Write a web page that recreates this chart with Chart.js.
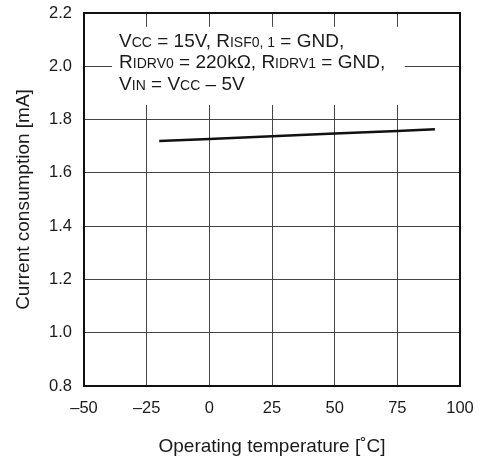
<!DOCTYPE html>
<html>
<head>
<meta charset="utf-8">
<script src="https://cdn.jsdelivr.net/npm/chart.js@4"></script>
<style>
  html, body { margin: 0; padding: 0; background: #fff; }
  #wrap { width: 482px; height: 462px; }
</style>
</head>
<body>
<div id="wrap"><canvas id="currentChart" width="482" height="462"></canvas></div>
<script>
    // Current consumption vs. operating temperature
    const temperature = [-20, 0, 25, 50, 75, 90];
    const current = [1.72, 1.727, 1.737, 1.748, 1.757, 1.764];
    const xTicks = [-50, -25, 0, 25, 50, 75, 100];
    const yTicks = [0.8, 1.0, 1.2, 1.4, 1.6, 1.8, 2.0, 2.2];

    // condition note, each line split into normal / small-caps parts
    const noteLines = [
        [['V', 0], ['CC', 1], [' = 15V, R', 0], ['ISF0, 1', 1], [' = GND,', 0]],
        [['R', 0], ['IDRV0', 1], [' = 220k\u03A9, R', 0], ['IDRV1', 1], [' = GND,', 0]],
        [['V', 0], ['IN', 1], [' = V', 0], ['CC', 1], [' \u2013 5V', 0]]
    ];

    const FONT = '"Liberation Sans", Arial, sans-serif';

    const notePlugin = {
        id: 'note',
        afterDatasetsDraw(chart) {
            const ctx = chart.ctx;
            const xs = chart.scales.x, ys = chart.scales.y;
            ctx.save();
            // white box hides the grid behind the text
            const left = xs.getPixelForValue(-38.8);
            const right = xs.getPixelForValue(78);
            const top = ys.getPixelForValue(2.148);
            const bottom = ys.getPixelForValue(1.855);
            ctx.fillStyle = '#fff';
            ctx.fillRect(left, top, right - left, bottom - top);
            ctx.fillStyle = '#1a1a1a';
            ctx.textBaseline = 'alphabetic';
            noteLines.forEach((parts, i) => {
                let x = left + 7;
                const y = top + 20 + i * 21.5;
                parts.forEach(([t, small]) => {
                    ctx.font = (small ? '14px ' : '19px ') + FONT;
                    ctx.fillText(t, x, y);
                    x += ctx.measureText(t).width;
                });
            });
            ctx.restore();
        }
    };

    const ctx = document.getElementById('currentChart').getContext('2d');
    new Chart(ctx, {
        type: 'scatter',
        data: {
            datasets: [{
                data: temperature.map((t, i) => ({ x: t, y: current[i] })),
                showLine: true,
                borderColor: '#111',
                borderWidth: 2.5,
                pointRadius: 0,
                tension: 0
            }]
        },
        options: {
            responsive: false,
            animation: false,
            layout: { padding: { top: 13, right: 22, left: 0, bottom: 0 } },
            plugins: { legend: { display: false }, tooltip: { enabled: false } },
            scales: {
                x: {
                    type: 'linear',
                    min: -50, max: 100,
                    afterBuildTicks: s => { s.ticks = xTicks.map(v => ({ value: v })); },
                    afterFit: s => { s.height = 76; s.paddingLeft = 0; s.paddingRight = 0; },
                    ticks: {
                        color: '#1a1a1a', padding: 13,
                        font: { family: FONT, size: 16.5 },
                        callback: v => (v < 0 ? '\u2013' + Math.abs(v) : String(v))
                    },
                    grid: { color: '#444', lineWidth: 1, drawTicks: false },
                    border: { color: '#111', width: 2 },
                    title: {
                        display: true, text: 'Operating temperature [\u02DAC]',
                        color: '#1a1a1a', font: { family: FONT, size: 19 }, padding: { top: 6 }
                    }
                },
                y: {
                    min: 0.8, max: 2.2,
                    afterBuildTicks: s => { s.ticks = yTicks.map(v => ({ value: v })); },
                    afterFit: s => { s.width = 84; s.paddingTop = 0; s.paddingBottom = 0; },
                    ticks: {
                        color: '#1a1a1a', padding: 12,
                        font: { family: FONT, size: 16.5 },
                        callback: v => v.toFixed(1)
                    },
                    grid: { color: '#444', lineWidth: 1, drawTicks: false },
                    border: { color: '#111', width: 2 },
                    title: {
                        display: true, text: 'Current consumption [mA]',
                        color: '#1a1a1a', font: { family: FONT, size: 19 }, padding: { top: 12, bottom: 0 }
                    }
                }
            }
        },
        plugins: [notePlugin, {
            // right and top frame lines
            id: 'frame',
            afterDraw(chart) {
                const a = chart.chartArea, c = chart.ctx;
                c.save();
                c.strokeStyle = '#111';
                c.lineWidth = 2;
                c.strokeRect(a.left, a.top, a.right - a.left, a.bottom - a.top);
                c.restore();
            }
        }]
    });
</script>
</body>
</html>
